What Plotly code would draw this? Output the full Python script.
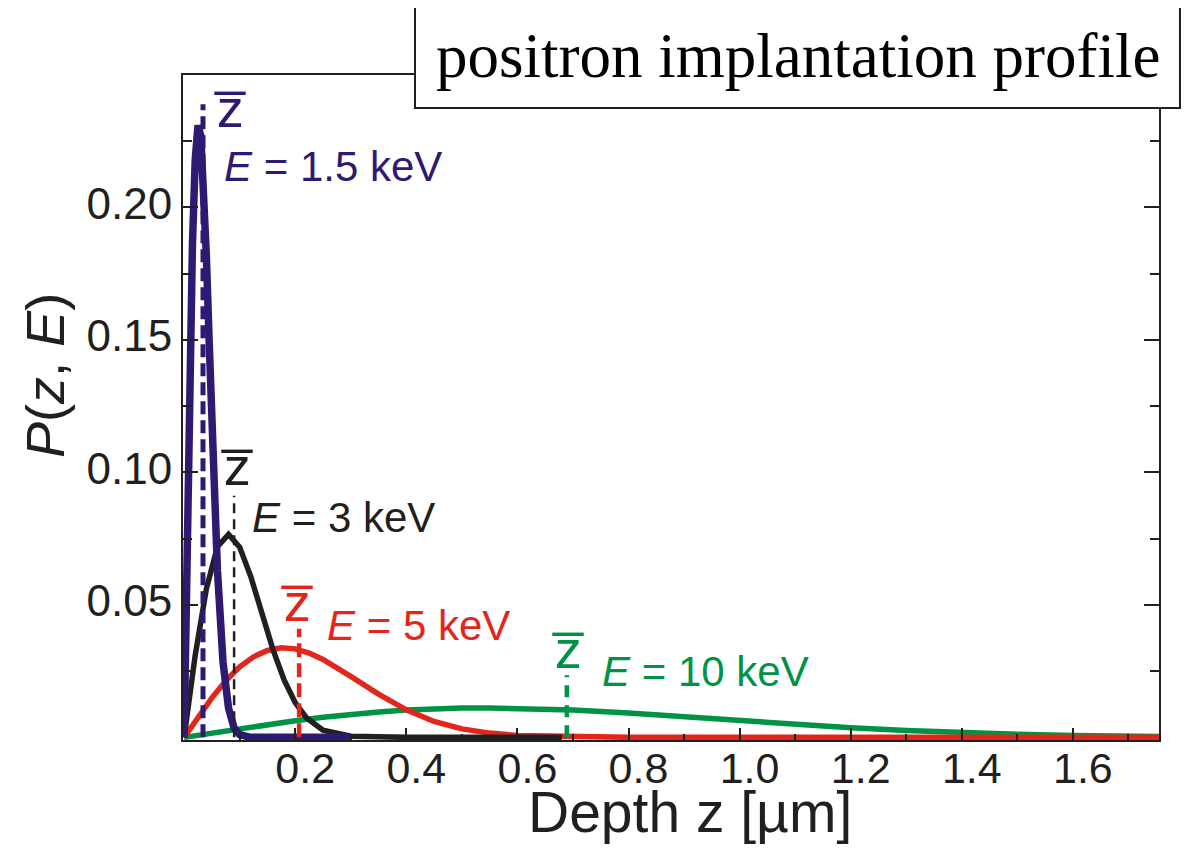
import plotly.graph_objects as go

# ---- data ----
z_blue = [0, 0.005, 0.01, 0.015, 0.02, 0.025, 0.03, 0.035, 0.04, 0.045, 0.05, 0.06,
          0.07, 0.08, 0.09, 0.1, 0.12, 0.2, 0.3]
p_blue = [0, 0.072, 0.136, 0.186, 0.218, 0.231, 0.227, 0.209, 0.182, 0.150, 0.118, 0.063,
          0.0285, 0.011, 0.0035, 0.001, 0, 0, 0]

z_black = [0, 0.02, 0.04, 0.06, 0.08, 0.1, 0.12, 0.14, 0.16, 0.18, 0.2, 0.22, 0.25,
           0.3, 0.35, 0.4, 0.5, 0.68]
p_black = [0, 0.031, 0.056, 0.072, 0.0766, 0.0718, 0.0607, 0.0468, 0.0331, 0.0217,
           0.0131, 0.0074, 0.0027, 0.0004, 0, 0, 0, 0]

z_red = [0, 0.025, 0.05, 0.075, 0.1, 0.125, 0.15, 0.175, 0.2, 0.225, 0.25, 0.3, 0.35,
         0.4, 0.45, 0.5, 0.55, 0.6, 0.7, 0.8, 1.0, 1.4, 1.755]
p_red = [0, 0.0077, 0.0149, 0.0213, 0.0266, 0.0304, 0.0328, 0.0338, 0.0334, 0.0318,
         0.0294, 0.0230, 0.0163, 0.0104, 0.0060, 0.0032, 0.0016, 0.0007, 0.0001, 0, 0, 0, 0]

z_green = [0, 0.05, 0.1, 0.15, 0.2, 0.25, 0.3, 0.35, 0.4, 0.45, 0.5, 0.55, 0.6, 0.65,
           0.7, 0.8, 0.9, 1.0, 1.1, 1.2, 1.3, 1.4, 1.5, 1.6, 1.7, 1.755]
p_green = [0, 0.0017, 0.0033, 0.0049, 0.0063, 0.0076, 0.0087, 0.0096, 0.0103, 0.0108,
           0.0111, 0.0111, 0.0110, 0.0107, 0.0103, 0.0092, 0.0078, 0.0063, 0.0048,
           0.0036, 0.0026, 0.0017, 0.0012, 0.0007, 0.0004, 0.0003]

# mean depths (z-bar) and heights of their dashed markers
energies = ["1.5", "3", "5", "10"]
zbar = [0.034, 0.090, 0.207, 0.689]
zbar_top = [0.239, 0.0912, 0.041, 0.0234]

x_ticks = [0.2, 0.4, 0.6, 0.8, 1.0, 1.2, 1.4, 1.6]
x_ticktext = ["0.2", "0.4", "0.6", "0.8", "1.0", "1.2", "1.4", "1.6"]
y_ticks = [0.05, 0.10, 0.15, 0.20]
y_ticktext = ["0.05", "0.10", "0.15", "0.20"]

BLUE = "#2E1A73"
BLACK = "#231F20"
RED = "#E2261C"
GREEN = "#009245"
FONT = "Liberation Sans, Arial, sans-serif"

fig = go.Figure()

# curves (green bottom, blue top)
for zs, ps, col, w in [(z_green, p_green, GREEN, 5.5), (z_red, p_red, RED, 5.5),
                       (z_black, p_black, BLACK, 5.5), (z_blue, p_blue, BLUE, 7.5)]:
    fig.add_trace(go.Scatter(x=zs, y=ps, mode="lines",
                             line=dict(color=col, width=w), showlegend=False,
                             hoverinfo="skip"))

# dashed mean-depth markers
dash_style = [(BLUE, 5, "13px,6px"), (BLACK, 2.5, "10px,6px"),
              (RED, 4.5, "14px,6px"), (GREEN, 4.5, "12px,8px")]
for zb, top, (col, w, d) in zip(zbar, zbar_top, dash_style):
    fig.add_trace(go.Scatter(x=[zb, zb], y=[0, top], mode="lines",
                             line=dict(color=col, width=w, dash=d),
                             showlegend=False, hoverinfo="skip"))

ann = []
# energy labels
label_pos = [(0.068, 0.2155, BLUE), (0.119, 0.0829, BLACK),
             (0.254, 0.0422, RED), (0.748, 0.0249, GREEN)]
for e, (lx, ly, col) in zip(energies, label_pos):
    ann.append(dict(x=lx, y=ly, xref="x", yref="y", xanchor="left", yanchor="middle",
                    text=f"<i>E</i> = {e} keV", showarrow=False,
                    font=dict(family=FONT, size=42, color=col)))

# z-bar labels (z with combining overline)
zlab_pos = [(0.083, 0.2375, BLUE), (0.095, 0.1025, BLACK),
            (0.203, 0.0512, RED), (0.691, 0.0335, GREEN)]
for lx, ly, col in zlab_pos:
    ann.append(dict(x=lx, y=ly, xref="x", yref="y", xanchor="center", yanchor="middle",
                    text="z\u0305", showarrow=False,
                    font=dict(family=FONT, size=54, color=col)))

# axis titles
ann.append(dict(x=-0.1414, y=0.549, xref="paper", yref="paper", xanchor="center",
                yanchor="middle", textangle=-90, showarrow=False,
                text="<i>P</i>(<i>z</i>, <i>E</i>)",
                font=dict(family=FONT, size=54, color=BLACK)))
ann.append(dict(x=0.519, y=-0.108, xref="paper", yref="paper", xanchor="center",
                yanchor="middle", showarrow=False, text="Depth z [µm]",
                font=dict(family=FONT, size=57, color=BLACK)))

# boxed title text
ann.append(dict(x=0.6300, y=1.0286, xref="paper", yref="paper", xanchor="center",
                yanchor="middle", showarrow=False, text="positron implantation profile",
                font=dict(family="Liberation Serif, Times New Roman, serif", size=63,
                          color="black")))

fig.update_layout(
    width=1186, height=840,
    margin=dict(l=175, r=35, t=67, b=108),
    paper_bgcolor="white", plot_bgcolor="white",
    annotations=ann,
    shapes=[dict(type="rect", xref="paper", yref="paper",
                 x0=0.2377, x1=1.0215, y0=0.9504, y1=1.1053,
                 line=dict(color=BLACK, width=2), fillcolor="white", layer="above")],
    xaxis=dict(range=[-0.002, 1.755], tickvals=x_ticks, ticktext=x_ticktext,
               showgrid=False, zeroline=False, showline=True, linecolor=BLACK,
               linewidth=2, mirror=True, ticks="inside", ticklen=12, tickwidth=2,
               tickcolor=BLACK, ticklabelshift=10, ticklabelstandoff=-11,
               minor=dict(ticks="inside", ticklen=6, tickwidth=2, tickcolor=BLACK,
                          tick0=0.1, dtick=0.2, showgrid=False),
               tickfont=dict(family=FONT, size=43, color=BLACK)),
    yaxis=dict(range=[-0.001, 0.25], tickvals=y_ticks, ticktext=y_ticktext,
               showgrid=False, zeroline=False, showline=True, linecolor=BLACK,
               linewidth=2, mirror="ticks", ticks="inside", ticklen=15, tickwidth=2,
               tickcolor=BLACK, ticklabelshift=-4,
               minor=dict(ticks="inside", ticklen=9, tickwidth=2, tickcolor=BLACK,
                          tick0=0.025, dtick=0.05, showgrid=False),
               tickfont=dict(family=FONT, size=44, color=BLACK)),
)

fig.write_html("out.html")
